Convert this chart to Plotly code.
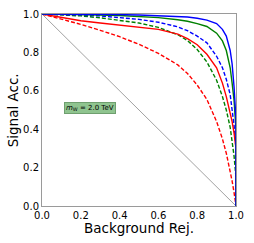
import plotly.graph_objects as go

bkg_rej = [0.0, 0.1, 0.2, 0.3, 0.4, 0.5, 0.6, 0.7, 0.75, 0.8, 0.85, 0.9, 0.93, 0.95, 0.97, 0.98, 0.99, 1.0, 1.0]

blue_solid = [1.0, 1.0, 0.999, 0.998, 0.997, 0.995, 0.992, 0.988, 0.984, 0.978, 0.968, 0.95, 0.92, 0.885, 0.81, 0.74, 0.62, 0.45, 0.0]
green_solid = [1.0, 0.999, 0.997, 0.995, 0.992, 0.988, 0.981, 0.97, 0.962, 0.95, 0.935, 0.9, 0.86, 0.81, 0.72, 0.64, 0.55, 0.4, 0.0]
blue_dashed = [1.0, 0.998, 0.994, 0.99, 0.982, 0.972, 0.957, 0.933, 0.913, 0.885, 0.85, 0.78, 0.72, 0.66, 0.58, 0.5, 0.42, 0.3, 0.0]
red_solid = [1.0, 0.982, 0.965, 0.953, 0.943, 0.933, 0.92, 0.895, 0.872, 0.84, 0.79, 0.72, 0.64, 0.57, 0.49, 0.44, 0.38, 0.3, 0.0]
green_dashed = [1.0, 0.996, 0.99, 0.98, 0.968, 0.953, 0.93, 0.892, 0.862, 0.815, 0.75, 0.655, 0.57, 0.5, 0.41, 0.34, 0.26, 0.15, 0.0]
red_dashed = [1.0, 0.975, 0.946, 0.915, 0.882, 0.842, 0.795, 0.735, 0.69, 0.63, 0.555, 0.44, 0.35, 0.275, 0.185, 0.13, 0.07, 0.0, 0.0]

diag_x = [0.0, 1.0]
diag_y = [1.0, 0.0]

series = [
    (red_dashed, "red", "dash"),
    (green_dashed, "green", "dash"),
    (blue_dashed, "blue", "dash"),
    (red_solid, "red", "solid"),
    (green_solid, "green", "solid"),
    (blue_solid, "blue", "solid"),
]

fig = go.Figure()
fig.add_trace(go.Scatter(x=diag_x, y=diag_y, mode="lines",
                         line=dict(color="#8a8a8a", width=0.8), showlegend=False))
for ys, col, dash in series:
    fig.add_trace(go.Scatter(x=bkg_rej, y=ys, mode="lines",
                             line=dict(color=col, width=1.4, dash=dash if dash == "solid" else "4px,2px"),
                             showlegend=False))

axis_common = dict(range=[0, 1], dtick=0.2, tickformat=".1f", showgrid=False, zeroline=False,
                   showline=True, linecolor="#9a9a9a", linewidth=1, mirror=True, automargin=False,
                   ticks="", tickfont=dict(family="DejaVu Sans", size=10, color="black"))

title_font = dict(family="DejaVu Sans", size=13.5, color="black")

fig.update_layout(
    width=254, height=243,
    margin=dict(l=42, r=18, t=14, b=37),
    paper_bgcolor="white", plot_bgcolor="white",
    xaxis=dict(**axis_common),
    yaxis=dict(**axis_common),
    annotations=[
        dict(x=0.246, y=0.51, xref="x", yref="y", showarrow=False,
             text="<i>m</i><sub>W</sub> = 2.0 TeV",
             font=dict(family="DejaVu Sans", size=7, color="black"),
             bgcolor="#8fc48f", bordercolor="#6f9f6f", borderwidth=1, borderpad=1),
        dict(x=0.5, y=-0.117, xref="paper", yref="paper", showarrow=False,
             xanchor="center", yanchor="middle", text="Background Rej.", font=title_font),
        dict(x=-0.148, y=0.5, xref="paper", yref="paper", showarrow=False, textangle=-90,
             xanchor="center", yanchor="middle", text="Signal Acc.", font=title_font),
    ],
)

fig.write_html("out.html", config={"displayModeBar": False},
               post_script="document.body.style.margin='0px';")
